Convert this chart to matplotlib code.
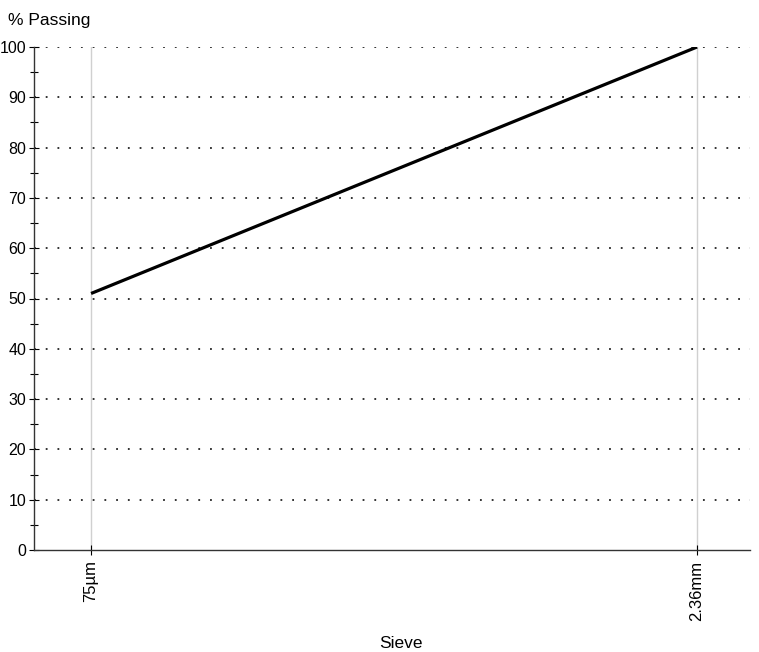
import matplotlib
matplotlib.use("Agg")
import matplotlib.pyplot as plt
from matplotlib.ticker import MultipleLocator

# sieve sizes (mm) and % passing
sieve_mm = [0.075, 2.36]
sieve_labels = ['75µm', '2.36mm']
passing = [51, 100]

plt.rcParams['font.family'] = ['Liberation Sans', 'DejaVu Sans']

fig = plt.figure(figsize=(7.59, 6.52), dpi=100)
ax = fig.add_axes([34/759, 1 - 550/652, (750 - 34)/759, (550 - 47)/652])

ax.set_xscale('log')
ax.set_xlim(0.0542, 3.19)
ax.set_ylim(0, 100)

# vertical lines at the sieves
for s in sieve_mm:
    ax.axvline(s, color='#d0d0d0', lw=1, zorder=1)

# dotted horizontal grid
for yv in range(10, 101, 10):
    ax.axhline(yv, color='#222222', lw=1.3, ls=(0, (1, 5.5)), zorder=1)

ax.plot(sieve_mm, passing, color='black', lw=2.3, zorder=3, solid_capstyle='butt')

ax.set_xticks(sieve_mm)
ax.set_xticklabels(sieve_labels, rotation=90)
ax.xaxis.set_minor_locator(plt.NullLocator())
ax.yaxis.set_major_locator(MultipleLocator(10))
ax.yaxis.set_minor_locator(MultipleLocator(5))
ax.tick_params(axis='both', which='major', direction='inout', length=7, width=0.8, pad=2)
ax.tick_params(axis='y', labelsize=11.5)
ax.tick_params(axis='y', which='minor', direction='inout', length=6, width=0.8)
ax.tick_params(axis='x', labelsize=12, pad=4)

for side in ['top', 'right']:
    ax.spines[side].set_visible(False)
for side in ['left', 'bottom']:
    ax.spines[side].set_color('#333333')
    ax.spines[side].set_linewidth(1)

fig.text(8/759, 1 - 20/652, '% Passing', fontsize=12.5, va='center', ha='left')
fig.text(401/759, 1 - 643/652, 'Sieve', fontsize=12.5, va='center', ha='center')

fig.savefig('out.png', dpi=100)
